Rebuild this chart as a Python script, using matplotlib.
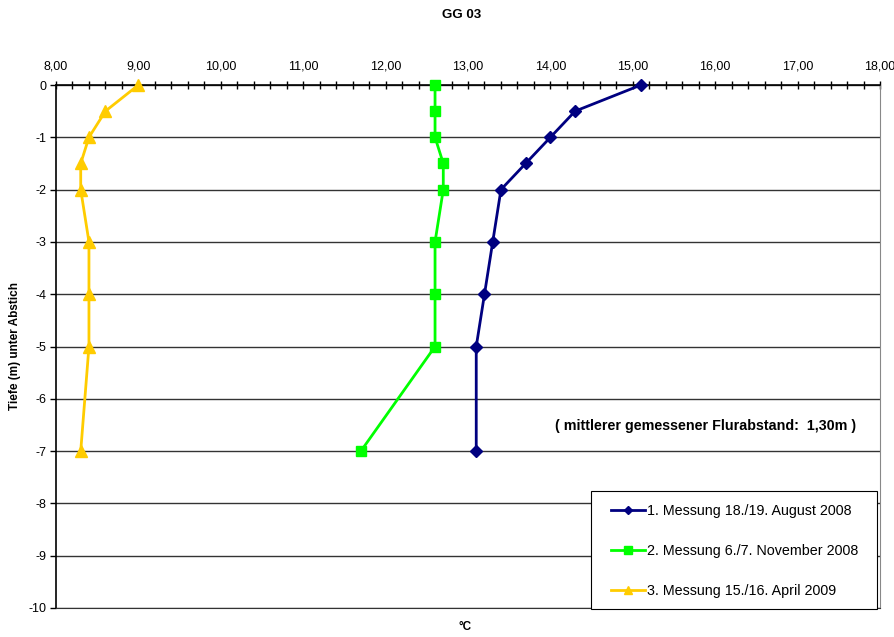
import matplotlib
matplotlib.use("Agg")
import matplotlib.pyplot as plt
from matplotlib.patches import Rectangle
from matplotlib.ticker import MultipleLocator, FuncFormatter

plt.rcParams['font.family'] = ['Liberation Sans', 'DejaVu Sans']

depth = [0, -0.5, -1, -1.5, -2, -3, -4, -5, -7]
temp_aug_2008 = [15.1, 14.3, 14.0, 13.7, 13.4, 13.3, 13.2, 13.1, 13.1]
temp_nov_2008 = [12.6, 12.6, 12.6, 12.7, 12.7, 12.6, 12.6, 12.6, 11.7]
temp_apr_2009 = [9.0, 8.6, 8.4, 8.3, 8.3, 8.4, 8.4, 8.4, 8.3]

labels = ["1. Messung 18./19. August 2008",
          "2. Messung 6./7. November 2008",
          "3. Messung 15./16. April 2009"]

W, H = 894, 637
fig = plt.figure(figsize=(W / 100, H / 100), dpi=100)
ax = fig.add_axes([56/W, 1-608/H, (880-56)/W, (608-85)/H])

ax.plot(temp_aug_2008, depth, color='#000080', lw=2, marker='D', ms=6,
        label=labels[0], clip_on=False, zorder=5)
ax.plot(temp_nov_2008, depth, color='#00FF00', lw=2, marker='s', ms=7.5,
        label=labels[1], clip_on=False, zorder=5)
ax.plot(temp_apr_2009, depth, color='#FFCC00', lw=2, marker='^', ms=8,
        label=labels[2], clip_on=False, zorder=5)

ax.set_xlim(8, 18)
ax.set_ylim(-10, 0)
ax.xaxis.set_major_locator(MultipleLocator(1))
ax.xaxis.set_minor_locator(MultipleLocator(0.2))
ax.yaxis.set_major_locator(MultipleLocator(1))
ax.xaxis.set_major_formatter(FuncFormatter(lambda v, p: f"{v:.2f}".replace('.', ',')))
ax.yaxis.set_major_formatter(FuncFormatter(lambda v, p: f"{int(round(v))}"))
ax.xaxis.tick_top()
ax.tick_params(axis='x', which='both', direction='inout', length=6, width=1,
               labelsize=9, pad=6)
ax.tick_params(axis='y', direction='out', length=4, width=1, labelsize=9, pad=3)

ax.grid(axis='y', color='#333333', lw=1)
ax.set_axisbelow(True)
for s in ['top', 'left']:
    ax.spines[s].set_color('black')
    ax.spines[s].set_linewidth(1.2)
ax.spines['right'].set_color('#888888')
ax.spines['bottom'].set_color('#333333')

fig.text(15/W, 1-346/H, "Tiefe (m) unter Abstich", rotation=90,
         ha='center', va='center', fontsize=8.5, fontweight='bold')
fig.text(465/W, 1-627/H, "°C", ha='center', va='center', fontsize=8.5, fontweight='bold')
fig.text(462/W, 1-15/H, "GG 03", ha='center', va='center', fontsize=9.5, fontweight='bold')

ax.text(15.88, -6.52, "( mittlerer gemessener Flurabstand:  1,30m )",
        ha='center', va='center', fontsize=10.3, fontweight='bold')

# legend box drawn separately so its padding can be set freely
box = Rectangle((591/W, 1-609/H), (877-591)/W, (609-491)/H,
                transform=fig.transFigure, facecolor='white',
                edgecolor='black', lw=0.8, zorder=6)
fig.add_artist(box)
leg = fig.legend(loc='center left', bbox_to_anchor=(611/W, 1-551/H),
                 bbox_transform=fig.transFigure, fontsize=10.3, frameon=False,
                 labelspacing=1.85, handlelength=2.35, handletextpad=0.15,
                 borderpad=0, borderaxespad=0, markerscale=0.7)
leg.set_zorder(7)

fig.savefig("out.png", dpi=100)
